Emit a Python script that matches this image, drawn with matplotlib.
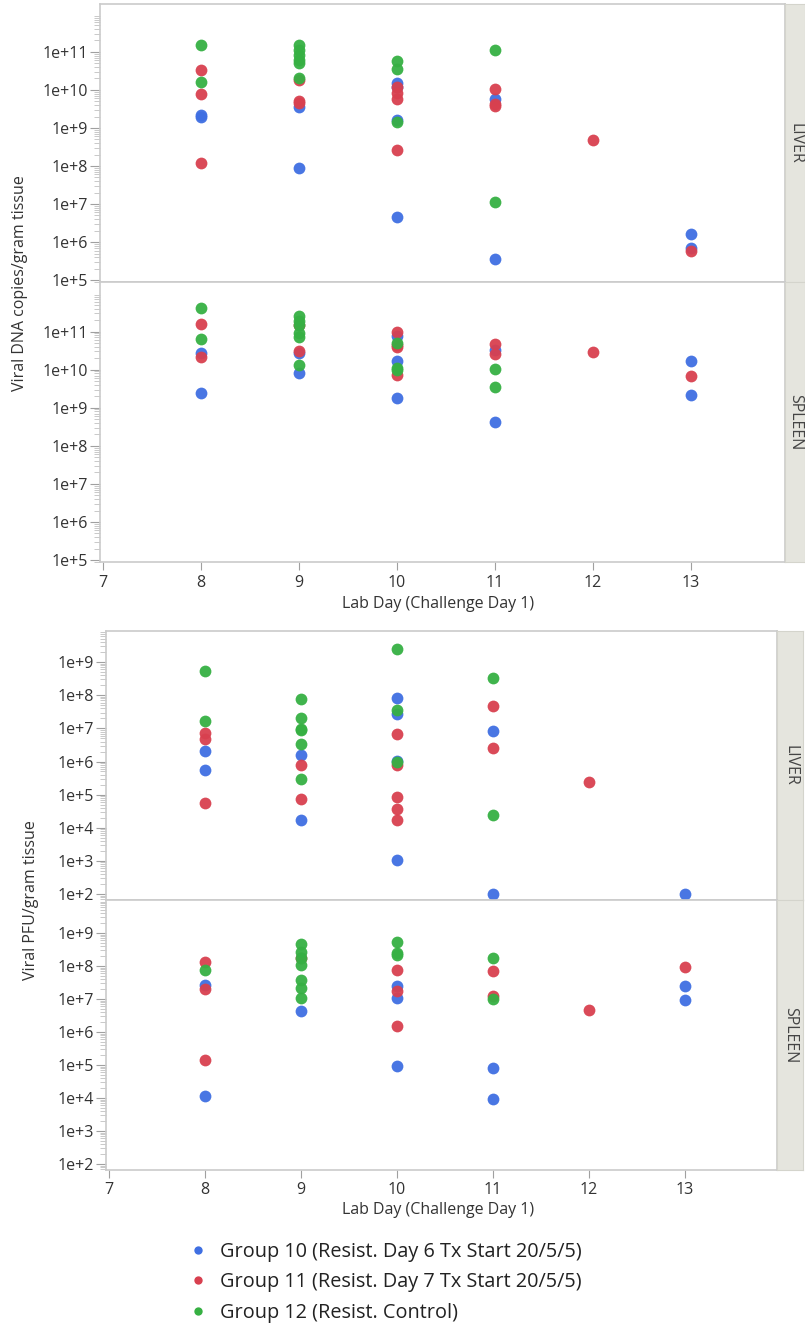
import numpy as np
import matplotlib.pyplot as plt
from matplotlib.ticker import FixedLocator, FuncFormatter, NullFormatter
from matplotlib.lines import Line2D

plt.rcParams['font.family'] = ['Open Sans', 'DejaVu Sans']

# group names and colours
groups = ['Group 10 (Resist. Day 6 Tx Start 20/5/5)',
          'Group 11 (Resist. Day 7 Tx Start 20/5/5)',
          'Group 12 (Resist. Control)']
colors = ['#3f6fe2', '#d8404f', '#36b043']
tissues = ['LIVER', 'SPLEEN']
day_ticks = [7, 8, 9, 10, 11, 12, 13]

# viral DNA copies/gram tissue, (day, value)
dna_liver_g10 = [(8, 2.2e9), (8, 1.9e9), (9, 3.6e9), (9, 8.7e7), (10, 1.5e10), (10, 1.2e10),
                 (10, 1.6e9), (10, 4.6e6), (11, 5.9e9), (11, 3.5e5), (13, 1.6e6), (13, 6.8e5)]
dna_liver_g11 = [(8, 3.4e10), (8, 7.8e9), (8, 1.2e8), (9, 1.8e10), (9, 5.1e9), (9, 4.6e9),
                 (10, 1.2e10), (10, 8.1e9), (10, 5.7e9), (10, 2.6e8), (11, 1.05e10), (11, 4.3e9),
                 (11, 3.8e9), (12, 4.7e8), (13, 5.8e5)]
dna_liver_g12 = [(8, 1.5e11), (8, 1.66e10), (9, 1.5e11), (9, 1.1e11), (9, 8.4e10), (9, 6.2e10),
                 (9, 5.2e10), (9, 2.1e10), (10, 5.9e10), (10, 3.5e10), (10, 1.4e9), (11, 1.1e11),
                 (11, 1.1e7)]
dna_spleen_g10 = [(8, 2.7e10), (8, 2.5e9), (9, 2.8e10), (9, 8.1e9), (10, 7.6e10), (10, 1.7e10),
                  (10, 1.8e9), (11, 3.2e10), (11, 4.1e8), (13, 1.7e10), (13, 2.2e9)]
dna_spleen_g11 = [(8, 1.6e11), (8, 2.1e10), (9, 1.45e11), (9, 3.0e10), (10, 1.0e11), (10, 4.5e10),
                  (10, 4.0e10), (10, 7.2e9), (11, 4.7e10), (11, 2.5e10), (12, 2.9e10), (13, 6.9e9)]
dna_spleen_g12 = [(8, 4.2e11), (8, 6.3e10), (9, 2.5e11), (9, 1.9e11), (9, 1.5e11), (9, 9.4e10),
                  (9, 7.1e10), (9, 1.3e10), (10, 5.0e10), (10, 1.1e10), (10, 9.5e9), (11, 1.05e10),
                  (11, 3.4e9)]

# viral PFU/gram tissue, (day, value)
pfu_liver_g10 = [(8, 2.1e6), (8, 5.7e5), (9, 1.6e6), (9, 1.7e4), (10, 8.2e7), (10, 2.8e7),
                 (10, 1.07e6), (10, 1.07e3), (11, 8.3e6), (11, 1e2), (13, 1e2)]
pfu_liver_g11 = [(8, 7.2e6), (8, 4.9e6), (8, 5.5e4), (9, 7.9e5), (9, 7.2e4), (10, 7e6),
                 (10, 7.9e5), (10, 8.7e4), (10, 3.8e4), (10, 1.7e4), (11, 4.7e7), (11, 2.6e6),
                 (12, 2.4e5)]
pfu_liver_g12 = [(8, 5.3e8), (8, 1.7e7), (9, 7.9e7), (9, 2.0e7), (9, 9.6e6), (9, 9.0e6),
                 (9, 3.5e6), (9, 2.9e5), (10, 2.5e9), (10, 3.6e7), (10, 9.5e5), (11, 3.4e8),
                 (11, 2.4e4)]
pfu_spleen_g10 = [(8, 2.7e7), (8, 1.15e4), (9, 4.4e6), (10, 2.4e7), (10, 1.1e7), (10, 9.1e4),
                  (11, 8.3e4), (11, 9.6e3), (13, 2.4e7), (13, 9.6e6)]
pfu_spleen_g11 = [(8, 1.3e8), (8, 2.0e7), (8, 1.4e5), (9, 1.7e8), (10, 7.6e7), (10, 1.7e7),
                  (10, 1.5e6), (11, 7.3e7), (11, 1.2e7), (12, 4.7e6), (13, 9.1e7)]
pfu_spleen_g12 = [(8, 7.4e7), (9, 4.6e8), (9, 2.6e8), (9, 1.8e8), (9, 1.07e8), (9, 3.8e7),
                  (9, 2.2e7), (9, 1.1e7), (10, 5.5e8), (10, 2.5e8), (10, 2.2e8), (11, 1.7e8),
                  (11, 9.8e6)]

W, H = 805, 1326
fig = plt.figure(figsize=(W / 100, H / 100), dpi=100)

def fbox(x0, y0, x1, y1):
    # pixel box (top-left origin) -> figure fraction rect
    return [x0 / W, 1 - y1 / H, (x1 - x0) / W, (y1 - y0) / H]

fmt = FuncFormatter(lambda v, p: '1e+%d' % int(round(np.log10(v))))

def panel(box, data, ylo, yhi, majors, strip_box, name, show_x):
    ax = fig.add_axes(fbox(*box))
    for g, pts in enumerate(data):
        d = [p[0] for p in pts]
        v = [p[1] for p in pts]
        ax.scatter(d, v, s=72, color=colors[g], linewidths=0, alpha=0.95, zorder=3)
    ax.set_yscale('log')
    ax.set_xlim(6.97, 13.96)
    ax.set_ylim(10 ** ylo, 10 ** yhi)
    ax.yaxis.set_major_locator(FixedLocator([10.0 ** e for e in majors]))
    ax.yaxis.set_major_formatter(fmt)
    minors = [k * 10.0 ** e for e in range(majors[0] - 1, majors[-1] + 1) for k in range(2, 10)]
    ax.yaxis.set_minor_locator(FixedLocator(minors))
    ax.yaxis.set_minor_formatter(NullFormatter())
    ax.set_xticks(day_ticks)
    ax.tick_params(axis='y', which='major', length=7, color='#a0a0a0', labelsize=11.5,
                   labelcolor='#333333', pad=1.5)
    ax.tick_params(axis='y', which='minor', length=4, color='#c0c0c0')
    ax.tick_params(axis='x', length=6, color='#a0a0a0', labelsize=11.5, labelcolor='#333333',
                   pad=3, labelbottom=show_x)
    for s in ax.spines.values():
        s.set_color('#cbcbcb')
        s.set_linewidth(1.2)
    sax = fig.add_axes(fbox(*strip_box))
    sax.set_facecolor('#e5e5de')
    sax.set_xticks([])
    sax.set_yticks([])
    for s in sax.spines.values():
        s.set_color('#d4d4cc')
    sax.text(0.5, 0.5, name, rotation=270, ha='center', va='center', fontsize=11.5,
             color='#444444', transform=sax.transAxes)
    return ax

# top chart: viral DNA
panel((100, 4, 785, 282), [dna_liver_g10, dna_liver_g11, dna_liver_g12], 4.95, 12.26,
      list(range(5, 12)), (785, 4, 805, 282), tissues[0], False)
panel((100, 282, 785, 562), [dna_spleen_g10, dna_spleen_g11, dna_spleen_g12], 4.95, 12.3,
      list(range(5, 12)), (785, 282, 805, 562), tissues[1], True)
fig.text(20 / W, 1 - 283 / H, 'Viral DNA copies/gram tissue', rotation=90, ha='center',
         va='center', fontsize=11.5, color='#333333')
fig.text(438 / W, 1 - 604 / H, 'Lab Day (Challenge Day 1)', ha='center', va='center',
         fontsize=11.5, color='#333333')

# bottom chart: viral PFU
panel((106, 631, 777, 900), [pfu_liver_g10, pfu_liver_g11, pfu_liver_g12], 1.82, 9.94,
      list(range(2, 10)), (777, 631, 803, 900), tissues[0], False)
panel((106, 900, 777, 1170), [pfu_spleen_g10, pfu_spleen_g11, pfu_spleen_g12], 1.82, 10.0,
      list(range(2, 10)), (777, 900, 803, 1170), tissues[1], True)
fig.text(31 / W, 1 - 900 / H, 'Viral PFU/gram tissue', rotation=90, ha='center',
         va='center', fontsize=11.5, color='#333333')
fig.text(438 / W, 1 - 1210 / H, 'Lab Day (Challenge Day 1)', ha='center', va='center',
         fontsize=11.5, color='#333333')

handles = [Line2D([], [], marker='o', linestyle='none', markersize=6, markeredgewidth=0,
                  color=c) for c in colors]
fig.legend(handles, groups, loc='upper left', bbox_to_anchor=(188 / W, 1 - 1241.5 / H),
           frameon=False, fontsize=14.3, handlelength=1.0, handletextpad=0.61,
           labelspacing=0.55, borderpad=0, borderaxespad=0, labelcolor='#222222')

fig.savefig('out.png', dpi=100)
